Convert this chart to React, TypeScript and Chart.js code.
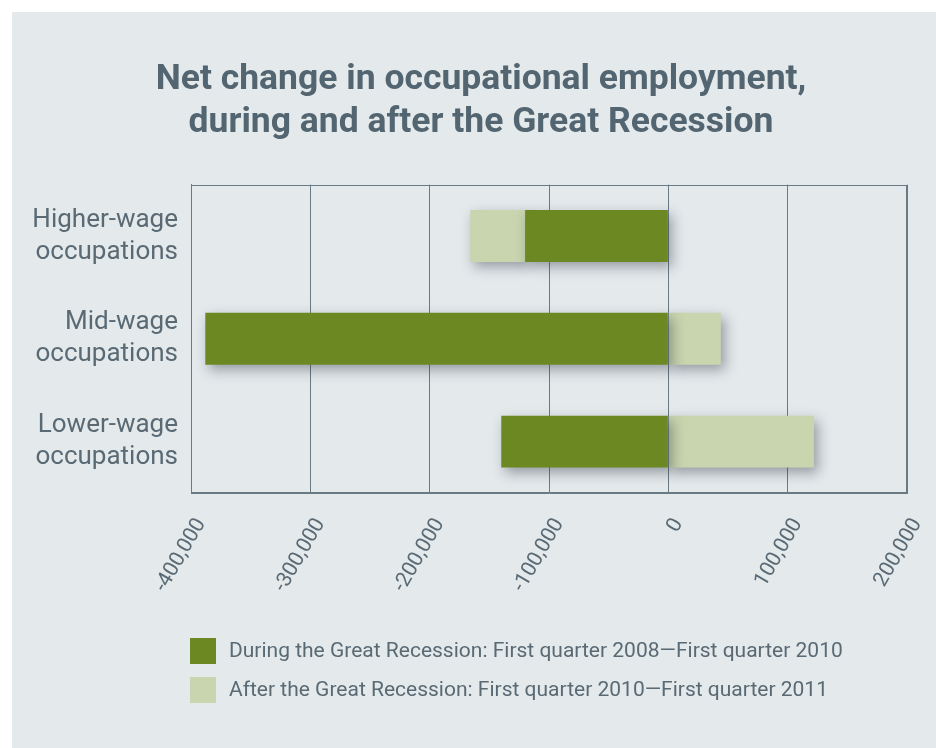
import { useEffect, useRef } from "react";
import { Chart, registerables } from "chart.js";

Chart.register(...registerables);

const titleLines = ["Net change in occupational employment,", "during and after the Great Recession"];
const categories = [
  ["Higher-wage", "occupations"],
  ["Mid-wage", "occupations"],
  ["Lower-wage", "occupations"],
];
const seriesLabels = [
  "During the Great Recession: First quarter 2008\u2014First quarter 2010",
  "After the Great Recession: First quarter 2010\u2014First quarter 2011",
];
const duringValues = [-120000, -388000, -140000];
const afterValues = [-46000, 44000, 122000];
const xMin = -400000;
const xMax = 200000;
const xStep = 100000;

const DARK = "#6b8823";
const LIGHT = "#c8d5ae";
const TEXT = "#5a6a74";
const TITLE = "#526570";
const GRID = "#6a7a84";
const BG = "#e4e9ec";

const framePlugin = {
  id: "frameAndShadow",
  beforeDatasetsDraw(chart: any) {
    const { ctx, chartArea } = chart;
    ctx.save();
    ctx.strokeStyle = GRID;
    ctx.lineWidth = 1;
    ctx.strokeRect(
      Math.round(chartArea.left) + 0.5,
      Math.round(chartArea.top) + 0.5,
      Math.round(chartArea.right - chartArea.left) - 1,
      Math.round(chartArea.bottom - chartArea.top) - 1
    );
    ctx.restore();
    ctx.save();
    ctx.shadowColor = "rgba(40,50,60,0.42)";
    ctx.shadowBlur = 12;
    ctx.shadowOffsetX = 4;
    ctx.shadowOffsetY = 5;
  },
  afterDatasetsDraw(chart: any) {
    chart.ctx.restore();
  },
};

const legendPlugin = {
  id: "customLegend",
  afterDraw(chart: any) {
    const { ctx, chartArea } = chart;
    const x0 = chartArea.left - 1;
    const top0 = chartArea.bottom + 145;
    ctx.save();
    chart.data.datasets.forEach((ds: any, i: number) => {
      const y = top0 + i * 39;
      ctx.fillStyle = ds.backgroundColor;
      ctx.fillRect(x0, y, 26, 26);
      ctx.fillStyle = TEXT;
      ctx.font = "21px Roboto";
      ctx.textBaseline = "middle";
      ctx.textAlign = "left";
      ctx.fillText(ds.label, x0 + 39, y + 14);
    });
    ctx.restore();
  },
};

export default function App() {
  const ref = useRef<HTMLCanvasElement | null>(null);
  useEffect(() => {
    if (!ref.current) return;
    const chart = new Chart(ref.current, {
      type: "bar",
      data: {
        labels: categories,
        datasets: [
          {
            label: seriesLabels[0],
            data: duringValues,
            backgroundColor: DARK,
            borderWidth: 0,
            barPercentage: 0.505,
            categoryPercentage: 1,
            xAxisID: "x",
            yAxisID: "y",
          },
          {
            label: seriesLabels[1],
            data: afterValues,
            backgroundColor: LIGHT,
            borderWidth: 0,
            barPercentage: 0.505,
            categoryPercentage: 1,
            xAxisID: "x",
            yAxisID: "y",
          },
        ],
      },
      options: {
        indexAxis: "y",
        animation: false,
        responsive: false,
        devicePixelRatio: 1,
        layout: { padding: { left: 0, right: 0, top: 0, bottom: 110 } },
        plugins: {
          legend: { display: false },
          tooltip: { enabled: false },
          title: {
            display: true,
            text: titleLines,
            color: TITLE,
            font: { family: "Roboto", weight: "bold", size: 35.5, lineHeight: 1.22 },
            padding: { top: 46, bottom: 40 },
          },
        },
        scales: {
          x: {
            stacked: true,
            min: xMin,
            max: xMax,
            afterFit: (s: any) => {
              s.height = 145;
            },
            grid: { color: GRID, drawTicks: false },
            border: { color: GRID },
            ticks: {
              stepSize: xStep,
              minRotation: 60,
              maxRotation: 60,
              padding: 21,
              labelOffset: 10,
              color: TEXT,
              font: { family: "Roboto", size: 21 },
              callback: (v: any) => Number(v).toLocaleString("en-US"),
            },
          },
          y: {
            stacked: true,
            afterFit: (s: any) => {
              s.width = 179;
            },
            grid: { display: false, drawTicks: false },
            border: { color: GRID },
            ticks: {
              padding: 13,
              color: TEXT,
              font: { family: "Roboto", size: 26, lineHeight: 1.23 },
            },
          },
          rightSpacer: {
            type: "linear",
            axis: "y",
            position: "right",
            afterFit: (s: any) => {
              s.width = 43;
            },
            grid: { display: false, drawTicks: false },
            border: { display: false },
            ticks: { display: false },
          },
        },
      },
      plugins: [framePlugin, legendPlugin],
    } as any);
    return () => chart.destroy();
  }, []);
  return (
    <div
      style={{
        position: "fixed",
        left: 12,
        top: 12,
        width: 938,
        height: 736,
        background: BG,
        overflow: "hidden",
      }}
    >
      <canvas ref={ref} width={938} height={736} style={{ display: "block" }} />
    </div>
  );
}
